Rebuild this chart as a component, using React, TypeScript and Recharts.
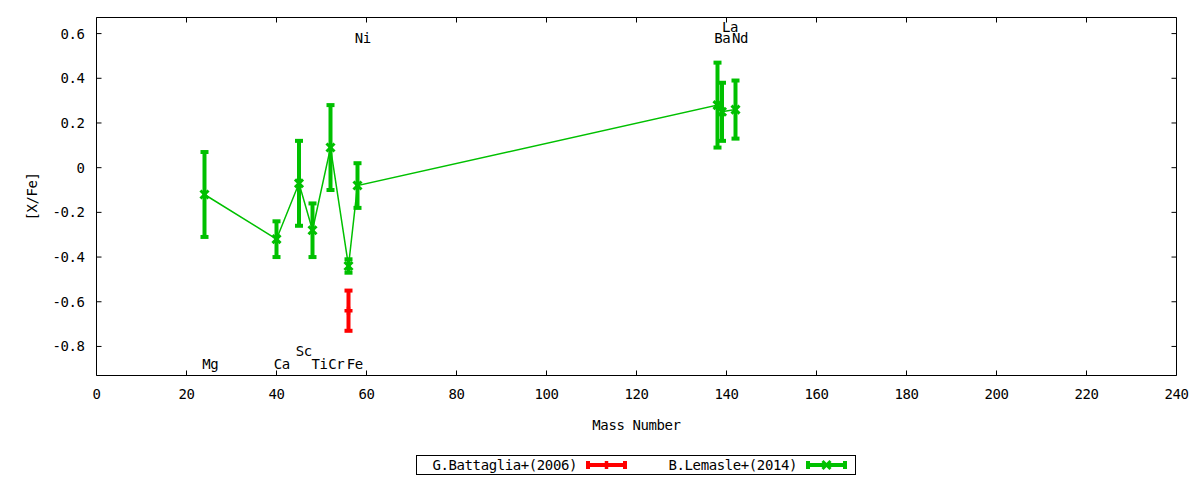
import React from 'react';
import { ComposedChart, Scatter, XAxis, YAxis, ErrorBar, ReferenceArea, Legend } from 'recharts';

const FONT = '"DejaVu Sans Mono", monospace';
const FONT_SIZE = 14;
const LETTER = -0.4;
const GREEN = '#00c000';
const RED = '#ff0000';

// axis ticks
const massTicks = [0, 20, 40, 60, 80, 100, 120, 140, 160, 180, 200, 220, 240];
const xfeTicks = [-0.8, -0.6, -0.4, -0.2, 0, 0.2, 0.4, 0.6];

// G.Battaglia+(2006)
const battagliaMass = [56];
const battagliaXFe = [-0.64];
const battagliaErr = [0.09];

// B.Lemasle+(2014)
const lemasleMass = [24, 40, 45, 48, 52, 56, 58, 138, 139, 142];
const lemasleXFe = [-0.12, -0.32, -0.07, -0.28, 0.09, -0.44, -0.08, 0.28, 0.25, 0.26];
const lemasleErr = [0.19, 0.08, 0.19, 0.12, 0.19, 0.03, 0.10, 0.19, 0.13, 0.13];

// element name labels
const elementNames = ['Mg', 'Ca', 'Sc', 'Ti', 'Cr', 'Fe', 'Ni', 'Ba', 'La', 'Nd'];
const labelMass = [23.5, 39.4, 44.3, 47.8, 51.5, 55.6, 57.4, 137.3, 139.0, 141.2];
const labelXFe = [-0.88, -0.88, -0.82, -0.88, -0.88, -0.88, 0.58, 0.58, 0.63, 0.58];

const seriesOrder = ['G.Battaglia+(2006)', 'B.Lemasle+(2014)'];

const Y_MIN = -0.93;
const Y_MAX = 0.672;

// plot frame in pixels (follows from the margins below)
const PLOT_LEFT = 96.5;
const PLOT_RIGHT = 1176.5;
const PLOT_TOP = 17.5;
const PLOT_BOTTOM = 375.5;
const TICK = 5;

const battagliaData = battagliaMass.map((m, i) => ({ mass: m, xfe: battagliaXFe[i], err: battagliaErr[i] }));
const lemasleData = lemasleMass.map((m, i) => ({ mass: m, xfe: lemasleXFe[i], err: lemasleErr[i] }));
const labelData = elementNames.map((name, i) => ({ mass: labelMass[i], xfe: labelXFe[i], name }));

const txt = { fontFamily: FONT, fontSize: FONT_SIZE, letterSpacing: LETTER, fill: '#000' };

const PlusMark = ({ cx, cy, color }: any) => (
  <g stroke={color} strokeWidth={3.5}>
    <line x1={cx - 4} x2={cx + 4} y1={cy} y2={cy} />
    <line x1={cx} x2={cx} y1={cy - 4} y2={cy + 4} />
  </g>
);

const CrossMark = ({ cx, cy, color }: any) => (
  <g stroke={color} strokeWidth={3}>
    <line x1={cx - 4} x2={cx + 4} y1={cy - 4} y2={cy + 4} />
    <line x1={cx - 4} x2={cx + 4} y1={cy + 4} y2={cy - 4} />
  </g>
);

const XTick = ({ x, y, payload }: any) => (
  <g>
    <text x={x} y={y} textAnchor="middle" dominantBaseline="central" style={txt}>
      {payload.value}
    </text>
    <line x1={x} x2={x} y1={PLOT_BOTTOM} y2={PLOT_BOTTOM - TICK} stroke="#000" />
    <line x1={x} x2={x} y1={PLOT_TOP} y2={PLOT_TOP + TICK} stroke="#000" />
  </g>
);

const YTick = ({ x, y, payload }: any) => (
  <g>
    <text x={x} y={y} textAnchor="end" dominantBaseline="central" style={txt}>
      {Math.abs(payload.value) < 1e-9 ? '0' : payload.value.toFixed(1)}
    </text>
    <line x1={PLOT_LEFT} x2={PLOT_LEFT + TICK} y1={y} y2={y} stroke="#000" />
    <line x1={PLOT_RIGHT} x2={PLOT_RIGHT - TICK} y1={y} y2={y} stroke="#000" />
  </g>
);

const ElementLabel = ({ cx, cy, payload }: any) => (
  <text x={cx} y={cy} textAnchor="start" dominantBaseline="central" style={txt}>
    {payload.name}
  </text>
);

const KeyBox = ({ payload }: any) => {
  const items = seriesOrder
    .map(name => (payload || []).find((p: any) => p.value === name))
    .filter(Boolean);
  return (
    <svg width={440} height={20} style={{ display: 'block' }}>
      <rect x={0.5} y={0.5} width={439} height={19} fill="#fff" stroke="#000" />
      {items.map((it: any, i: number) => {
        const off = i * 220;
        const color = it.color;
        const mid = 190.5 + off;
        return (
          <g key={it.value}>
            <text x={161 + off} y={10} textAnchor="end" dominantBaseline="central" style={txt}>
              {it.value}
            </text>
            <g stroke={color} strokeWidth={4}>
              <line x1={170 + off} x2={211 + off} y1={10} y2={10} />
              <line x1={172 + off} x2={172 + off} y1={6} y2={14} />
              <line x1={209 + off} x2={209 + off} y1={6} y2={14} />
            </g>
            {i === 0 ? <PlusMark cx={mid} cy={10} color={color} /> : <CrossMark cx={mid} cy={10} color={color} />}
          </g>
        );
      })}
    </svg>
  );
};

export default function App() {
  return (
    <div style={{ position: 'absolute', left: 0, top: 0, width: 1200, height: 480, background: '#fff', fontFamily: FONT }}>
      <ComposedChart width={1200} height={480} margin={{ top: 17.5, right: 23.5, bottom: 0, left: 0.5 }}>
        <XAxis
          type="number"
          dataKey="mass"
          domain={[0, 240]}
          ticks={massTicks}
          allowDataOverflow
          axisLine={false}
          tickLine={false}
          tickSize={6}
          tickMargin={12}
          height={104.5}
          tick={<XTick />}
          label={(p: any) => (
            <text
              x={p.viewBox.x + p.viewBox.width / 2}
              y={p.viewBox.y + 49}
              textAnchor="middle"
              dominantBaseline="central"
              style={txt}
            >
              Mass Number
            </text>
          )}
        />
        <YAxis
          type="number"
          dataKey="xfe"
          domain={[Y_MIN, Y_MAX]}
          ticks={xfeTicks}
          allowDataOverflow
          axisLine={false}
          tickLine={false}
          tickSize={6}
          tickMargin={6}
          width={96}
          tick={<YTick />}
          label={(p: any) => {
            const lx = 32;
            const ly = p.viewBox.y + p.viewBox.height / 2;
            return (
              <text
                x={lx}
                y={ly}
                transform={`rotate(-90 ${lx} ${ly})`}
                textAnchor="middle"
                dominantBaseline="central"
                style={txt}
              >
                [X/Fe]
              </text>
            );
          }}
        />
        <ReferenceArea x1={0} x2={240} y1={Y_MIN} y2={Y_MAX} fill="none" stroke="#000" strokeWidth={1} fillOpacity={0} />
        <Scatter
          name="G.Battaglia+(2006)"
          data={battagliaData}
          fill={RED}
          isAnimationActive={false}
          shape={(p: any) => <PlusMark cx={p.cx} cy={p.cy} color={RED} />}
        >
          <ErrorBar dataKey="err" direction="y" width={4} strokeWidth={4} stroke={RED} isAnimationActive={false} />
        </Scatter>
        <Scatter
          name="B.Lemasle+(2014)"
          data={lemasleData}
          fill={GREEN}
          line={{ stroke: GREEN, strokeWidth: 1.5 }}
          lineType="joint"
          isAnimationActive={false}
          shape={(p: any) => <CrossMark cx={p.cx} cy={p.cy} color={GREEN} />}
        >
          <ErrorBar dataKey="err" direction="y" width={4} strokeWidth={4} stroke={GREEN} isAnimationActive={false} />
        </Scatter>
        <Scatter
          name="labels"
          data={labelData}
          legendType="none"
          isAnimationActive={false}
          shape={(p: any) => <ElementLabel {...p} />}
        />
        <Legend
          verticalAlign="middle"
          align="center"
          content={<KeyBox />}
          wrapperStyle={{ left: 416, top: 455, width: 440, height: 20 }}
        />
      </ComposedChart>
    </div>
  );
}
